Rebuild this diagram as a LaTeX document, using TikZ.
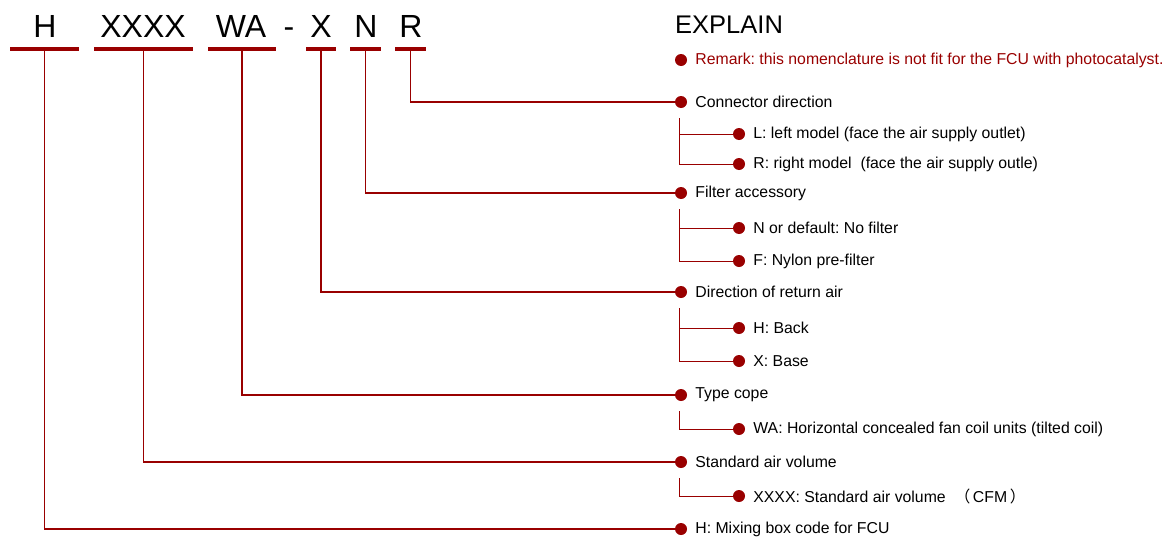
\documentclass[tikz,border=0pt]{standalone}
\usepackage{fontspec}
\setmainfont{Liberation Sans}
\newfontfamily\cjk{Noto Sans CJK SC}
\usetikzlibrary{positioning}
\definecolor{fcured}{HTML}{990000}
\frenchspacing

\begin{document}
\begin{tikzpicture}[
    x=1pt, y=-1pt,
    code/.style={font=\fontsize{32}{32}\selectfont, anchor=base, inner sep=0},
    codebar/.style={rectangle, fill=fcured, minimum height=3.5pt, inner sep=0},
    dot/.style={circle, fill=fcured, minimum size=12pt, inner sep=0},
    item/.style={anchor=west, font=\fontsize{15.8}{18}\selectfont, inner sep=0},
    lead/.style={draw=fcured, line width=1.3pt},
    sublead/.style={draw=fcured, line width=0.9pt}
]
    \useasboundingbox (0,0) rectangle (1172,541);

    % Codes
    \node[code] (h) at (45, 37) {H};
    \node[code] (xxxx) at (143, 37) {XXXX};
    \node[code] (wa) at (241, 37) {WA};
    \node[code] (dash) at (289, 37) {-};
    \node[code] (x) at (321, 37) {X};
    \node[code] (n) at (366, 37) {N};
    \node[code] (r) at (411, 37) {R};

    % Underlines
    \node[codebar, minimum width=69pt] (hbar) at (44.5, 49) {};
    \node[codebar, minimum width=99pt] (xxxxbar) at (143.5, 49) {};
    \node[codebar, minimum width=68pt] (wabar) at (242, 49) {};
    \node[codebar, minimum width=30pt] (xbar) at (321, 49) {};
    \node[codebar, minimum width=31pt] (nbar) at (365.5, 49) {};
    \node[codebar, minimum width=31pt] (rbar) at (410.5, 49) {};

    % Explain
    \node[item, font=\fontsize{25.5}{26}\selectfont] (explain) at (675, 25) {EXPLAIN};
    \node[dot] (dremark) at (681, 60) {};
    \node[item, text=fcured, right=8pt of dremark] (remark) {Remark: this nomenclature is not fit for the FCU with photocatalyst.};

    % Main items
    \node[dot] (dconn) at (681, 102) {};
    \node[item, right=8pt of dconn] (conn) {Connector direction};
    \node[dot] (dfilt) at (681, 193) {};
    \node[item, right=8pt of dfilt] (filt) {Filter accessory};
    \node[dot] (ddir) at (681, 292) {};
    \node[item, right=8pt of ddir] (dir) {Direction of return air};
    \node[dot] (dtype) at (681, 395) {};
    \node[item, right=8pt of dtype] (type) {Type cope};
    \node[dot] (dstd) at (681, 462) {};
    \node[item, right=8pt of dstd] (std) {Standard air volume};
    \node[dot] (dmix) at (681, 529) {};
    \node[item, right=8pt of dmix] (mix) {H: Mixing box code for FCU};

    % Sub items
    \node[dot] (dl) at (739, 134) {};
    \node[item, right=8pt of dl] (left) {L: left model (face the air supply outlet)};
    \node[dot] (dr) at (739, 164) {};
    \node[item, right=8pt of dr] (right) {R: right model\ \ (face the air supply outle)};
    \node[dot] (dnof) at (739, 228) {};
    \node[item, right=8pt of dnof] (nof) {N or default: No filter};
    \node[dot] (dnyl) at (739, 261) {};
    \node[item, right=8pt of dnyl] (nyl) {F: Nylon pre-filter};
    \node[dot] (dback) at (739, 328) {};
    \node[item, right=8pt of dback] (back) {H: Back};
    \node[dot] (dbase) at (739, 361) {};
    \node[item, right=8pt of dbase] (base) {X: Base};
    \node[dot] (dwa) at (739, 429) {};
    \node[item, right=8pt of dwa] (wadesc) {WA: Horizontal concealed fan coil units (tilted coil)};
    \node[dot] (dcfm) at (739, 496) {};
    \node[item, right=8pt of dcfm] (cfm) {XXXX: Standard air volume \ {\cjk（}\,CFM\,{\cjk）}};

    % Leads from codes
    \draw[lead] (rbar.south) |- (dconn.west);
    \draw[lead] (nbar.south) |- (dfilt.west);
    \draw[lead] (xbar.south) |- (ddir.west);
    \draw[lead] (wabar.south) |- (dtype.west);
    \draw[lead] (xxxxbar.south) |- (dstd.west);
    \draw[lead] (hbar.south) |- (dmix.west);

    % Leads to sub items
    \draw[sublead] ([xshift=-2pt, yshift=-10pt]dconn.south) |- (dl.west);
    \draw[sublead] ([xshift=-2pt, yshift=-10pt]dconn.south) |- (dr.west);
    \draw[sublead] ([xshift=-2pt, yshift=-10pt]dfilt.south) |- (dnof.west);
    \draw[sublead] ([xshift=-2pt, yshift=-10pt]dfilt.south) |- (dnyl.west);
    \draw[sublead] ([xshift=-2pt, yshift=-10pt]ddir.south) |- (dback.west);
    \draw[sublead] ([xshift=-2pt, yshift=-10pt]ddir.south) |- (dbase.west);
    \draw[sublead] ([xshift=-2pt, yshift=-10pt]dtype.south) |- (dwa.west);
    \draw[sublead] ([xshift=-2pt, yshift=-10pt]dstd.south) |- (dcfm.west);

\end{tikzpicture}
\end{document}
